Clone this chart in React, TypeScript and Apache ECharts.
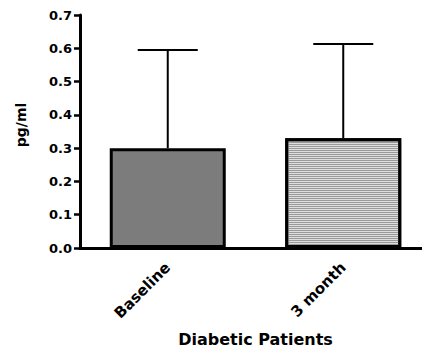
import React, { useEffect, useRef } from "react";
import * as echarts from "echarts";

const categories = ["Baseline", "3 month"];
const means = [0.3, 0.33];
const upperErrors = [0.595, 0.613];
const yTicks = [0, 0.1, 0.2, 0.3, 0.4, 0.5, 0.6, 0.7];
const xAxisTitle = "Diabetic Patients";
const yAxisTitle = "pg/ml";

const FONT = "DejaVu Sans";

export default function App() {
  const ref = useRef<HTMLDivElement>(null);
  useEffect(() => {
    if (!ref.current) return;
    const chart = echarts.init(ref.current, null, { renderer: "svg" });
    const fills = [
      { color: "#7c7c7c" },
      {
        color: "#dedede",
        decal: {
          symbol: "rect",
          symbolSize: 1,
          dashArrayX: [1, 0],
          dashArrayY: [1, 1],
          rotation: 0,
          color: "#9a9a9a",
        },
      },
    ];
    chart.setOption({
      animation: false,
      grid: { left: 80, right: 0, top: 15, bottom: 108 },
      xAxis: {
        type: "category",
        data: categories,
        name: xAxisTitle,
        nameLocation: "middle",
        nameGap: 83,
        nameTextStyle: { fontFamily: FONT, fontWeight: "bold", fontSize: 16, color: "#000" },
        axisLine: { lineStyle: { color: "#000", width: 3 } },
        axisTick: { alignWithLabel: true, length: 6, lineStyle: { color: "#000", width: 2.5 } },
        axisLabel: {
          rotate: 45,
          margin: 17,
          fontFamily: FONT,
          fontWeight: "bold",
          fontSize: 15,
          color: "#000",
        },
      },
      yAxis: {
        type: "value",
        min: yTicks[0],
        max: yTicks[yTicks.length - 1],
        interval: 0.1,
        splitLine: { show: false },
        axisLine: { show: true, lineStyle: { color: "#000", width: 3 } },
        axisTick: { show: true, length: 6, lineStyle: { color: "#000", width: 2.5 } },
        axisLabel: {
          margin: 8,
          fontFamily: FONT,
          fontWeight: "bold",
          fontSize: 13,
          color: "#000",
          formatter: (v: number) => v.toFixed(1),
        },
      },
      graphic: [
        {
          type: "text",
          x: 20.5,
          y: 125,
          rotation: Math.PI / 2,
          style: {
            text: yAxisTitle,
            fontFamily: FONT,
            fontWeight: "bold",
            fontSize: 14,
            fill: "#000",
            align: "center",
            verticalAlign: "middle",
          },
        },
      ],
      series: [
        {
          type: "custom",
          data: categories.map((c, i) => [i, means[i], upperErrors[i]]),
          renderItem: (params: any, api: any) => {
            const idx = api.value(0);
            const base = api.coord([idx, api.value(1)]);
            const top = api.coord([idx, api.value(2)]);
            const half = 30;
            return {
              type: "group",
              children: [
                {
                  type: "line",
                  shape: { x1: top[0], y1: base[1], x2: top[0], y2: top[1] },
                  style: { stroke: "#000", lineWidth: 2 },
                },
                {
                  type: "line",
                  shape: { x1: top[0] - half, y1: top[1], x2: top[0] + half, y2: top[1] },
                  style: { stroke: "#000", lineWidth: 2 },
                },
              ],
            };
          },
        },
        {
          type: "bar",
          barWidth: 116,
          data: means.map((v, i) => ({
            value: v,
            itemStyle: { ...fills[i], borderColor: "#000", borderWidth: 3 },
          })),
        },
      ],
    });
    return () => chart.dispose();
  }, []);
  return (
    <div
      style={{
        position: "absolute",
        left: 0,
        top: 0,
        width: 422,
        height: 356,
        overflow: "hidden",
      }}
    >
      <div ref={ref} style={{ width: 431, height: 356 }} />
    </div>
  );
}
